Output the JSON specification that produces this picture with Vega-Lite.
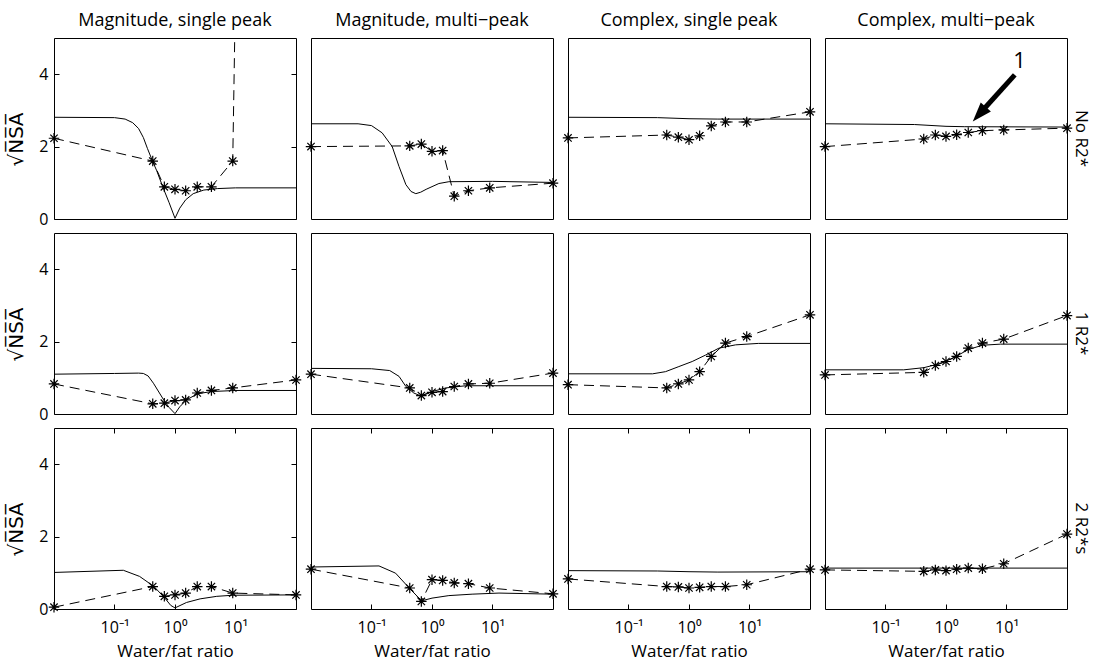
{
"$schema": "https://vega.github.io/schema/vega-lite/v6.json",
"padding": {"left": 6, "top": 11, "right": 2, "bottom": 0},
"datasets": {
"d": [
{"p":"11","k":"t","x":0.01,"y":2.81},{"p":"11","k":"t","x":0.1,"y":2.80},{"p":"11","k":"t","x":0.15,"y":2.76},{"p":"11","k":"t","x":0.2,"y":2.66},{"p":"11","k":"t","x":0.25,"y":2.5},{"p":"11","k":"t","x":0.3,"y":2.25},{"p":"11","k":"t","x":0.35,"y":1.95},{"p":"11","k":"t","x":0.43,"y":1.58},{"p":"11","k":"t","x":0.5,"y":1.33},{"p":"11","k":"t","x":0.63,"y":0.88},{"p":"11","k":"t","x":0.8,"y":0.45},{"p":"11","k":"t","x":1,"y":0.02},{"p":"11","k":"t","x":1.2,"y":0.3},{"p":"11","k":"t","x":1.5,"y":0.53},{"p":"11","k":"t","x":2,"y":0.7},{"p":"11","k":"t","x":3,"y":0.8},{"p":"11","k":"t","x":5,"y":0.84},{"p":"11","k":"t","x":10,"y":0.86},{"p":"11","k":"t","x":100,"y":0.86},
{"p":"12","k":"t","x":0.01,"y":2.63},{"p":"12","k":"t","x":0.06,"y":2.63},{"p":"12","k":"t","x":0.1,"y":2.58},{"p":"12","k":"t","x":0.15,"y":2.38},{"p":"12","k":"t","x":0.22,"y":2.0},{"p":"12","k":"t","x":0.285,"y":1.45},{"p":"12","k":"t","x":0.37,"y":0.95},{"p":"12","k":"t","x":0.45,"y":0.76},{"p":"12","k":"t","x":0.54,"y":0.70},{"p":"12","k":"t","x":0.65,"y":0.74},{"p":"12","k":"t","x":0.8,"y":0.82},{"p":"12","k":"t","x":1.3,"y":0.98},{"p":"12","k":"t","x":1.9,"y":1.03},{"p":"12","k":"t","x":10,"y":1.04},{"p":"12","k":"t","x":100,"y":1.01},
{"p":"13","k":"t","x":0.01,"y":2.81},{"p":"13","k":"t","x":0.3,"y":2.80},{"p":"13","k":"t","x":1,"y":2.77},{"p":"13","k":"t","x":3,"y":2.76},{"p":"13","k":"t","x":100,"y":2.76},
{"p":"14","k":"t","x":0.01,"y":2.63},{"p":"14","k":"t","x":0.3,"y":2.61},{"p":"14","k":"t","x":1,"y":2.56},{"p":"14","k":"t","x":2,"y":2.55},{"p":"14","k":"t","x":100,"y":2.54},
{"p":"21","k":"t","x":0.01,"y":1.10},{"p":"21","k":"t","x":0.1,"y":1.12},{"p":"21","k":"t","x":0.25,"y":1.13},{"p":"21","k":"t","x":0.3,"y":1.12},{"p":"21","k":"t","x":0.36,"y":1.05},{"p":"21","k":"t","x":0.44,"y":0.85},{"p":"21","k":"t","x":0.65,"y":0.39},{"p":"21","k":"t","x":0.8,"y":0.18},{"p":"21","k":"t","x":1,"y":0.01},{"p":"21","k":"t","x":1.2,"y":0.2},{"p":"21","k":"t","x":1.55,"y":0.39},{"p":"21","k":"t","x":2.37,"y":0.56},{"p":"21","k":"t","x":4,"y":0.62},{"p":"21","k":"t","x":10,"y":0.65},{"p":"21","k":"t","x":100,"y":0.65},
{"p":"22","k":"t","x":0.01,"y":1.26},{"p":"22","k":"t","x":0.1,"y":1.25},{"p":"22","k":"t","x":0.2,"y":1.2},{"p":"22","k":"t","x":0.285,"y":1.04},{"p":"22","k":"t","x":0.37,"y":0.76},{"p":"22","k":"t","x":0.5,"y":0.58},{"p":"22","k":"t","x":0.65,"y":0.5},{"p":"22","k":"t","x":1,"y":0.62},{"p":"22","k":"t","x":1.7,"y":0.72},{"p":"22","k":"t","x":3.6,"y":0.78},{"p":"22","k":"t","x":100,"y":0.78},
{"p":"23","k":"t","x":0.01,"y":1.11},{"p":"23","k":"t","x":0.25,"y":1.11},{"p":"23","k":"t","x":0.41,"y":1.17},{"p":"23","k":"t","x":0.68,"y":1.31},{"p":"23","k":"t","x":1.13,"y":1.45},{"p":"23","k":"t","x":1.89,"y":1.63},{"p":"23","k":"t","x":3.13,"y":1.82},{"p":"23","k":"t","x":5.9,"y":1.91},{"p":"23","k":"t","x":14,"y":1.95},{"p":"23","k":"t","x":100,"y":1.95},
{"p":"24","k":"t","x":0.01,"y":1.22},{"p":"24","k":"t","x":0.2,"y":1.22},{"p":"24","k":"t","x":0.43,"y":1.28},{"p":"24","k":"t","x":0.67,"y":1.36},{"p":"24","k":"t","x":1,"y":1.46},{"p":"24","k":"t","x":1.5,"y":1.6},{"p":"24","k":"t","x":2.33,"y":1.78},{"p":"24","k":"t","x":4,"y":1.9},{"p":"24","k":"t","x":8,"y":1.93},{"p":"24","k":"t","x":100,"y":1.93},
{"p":"31","k":"t","x":0.01,"y":1.01},{"p":"31","k":"t","x":0.14,"y":1.07},{"p":"31","k":"t","x":0.26,"y":0.9},{"p":"31","k":"t","x":0.45,"y":0.62},{"p":"31","k":"t","x":0.68,"y":0.3},{"p":"31","k":"t","x":0.85,"y":0.1},{"p":"31","k":"t","x":1,"y":0.03},{"p":"31","k":"t","x":1.55,"y":0.18},{"p":"31","k":"t","x":2.6,"y":0.28},{"p":"31","k":"t","x":4.9,"y":0.35},{"p":"31","k":"t","x":9,"y":0.38},{"p":"31","k":"t","x":100,"y":0.39},
{"p":"32","k":"t","x":0.01,"y":1.16},{"p":"32","k":"t","x":0.133,"y":1.19},{"p":"32","k":"t","x":0.25,"y":0.99},{"p":"32","k":"t","x":0.42,"y":0.58},{"p":"32","k":"t","x":0.61,"y":0.30},{"p":"32","k":"t","x":0.69,"y":0.23},{"p":"32","k":"t","x":1,"y":0.30},{"p":"32","k":"t","x":1.9,"y":0.37},{"p":"32","k":"t","x":4.6,"y":0.41},{"p":"32","k":"t","x":12.8,"y":0.44},{"p":"32","k":"t","x":100,"y":0.41},
{"p":"33","k":"t","x":0.01,"y":1.06},{"p":"33","k":"t","x":0.3,"y":1.05},{"p":"33","k":"t","x":1,"y":1.03},{"p":"33","k":"t","x":3,"y":1.02},{"p":"33","k":"t","x":100,"y":1.03},
{"p":"34","k":"t","x":0.01,"y":1.13},{"p":"34","k":"t","x":100,"y":1.13},
{"p":"11","k":"m","x":0.01,"y":2.23},{"p":"11","k":"m","x":0.4286,"y":1.60},{"p":"11","k":"m","x":0.6667,"y":0.89},{"p":"11","k":"m","x":1,"y":0.82},{"p":"11","k":"m","x":1.5,"y":0.78},{"p":"11","k":"m","x":2.333,"y":0.89},{"p":"11","k":"m","x":4,"y":0.89},{"p":"11","k":"m","x":9,"y":1.60},{"p":"11","k":"m","x":100,"y":110},
{"p":"12","k":"m","x":0.01,"y":2.0},{"p":"12","k":"m","x":0.4286,"y":2.02},{"p":"12","k":"m","x":0.6667,"y":2.07},{"p":"12","k":"m","x":1,"y":1.87},{"p":"12","k":"m","x":1.5,"y":1.89},{"p":"12","k":"m","x":2.333,"y":0.63},{"p":"12","k":"m","x":4,"y":0.78},{"p":"12","k":"m","x":9,"y":0.86},{"p":"12","k":"m","x":100,"y":0.99},
{"p":"13","k":"m","x":0.01,"y":2.24},{"p":"13","k":"m","x":0.4286,"y":2.32},{"p":"13","k":"m","x":0.6667,"y":2.26},{"p":"13","k":"m","x":1,"y":2.19},{"p":"13","k":"m","x":1.5,"y":2.30},{"p":"13","k":"m","x":2.333,"y":2.57},{"p":"13","k":"m","x":4,"y":2.68},{"p":"13","k":"m","x":9,"y":2.68},{"p":"13","k":"m","x":100,"y":2.96},
{"p":"14","k":"m","x":0.01,"y":2.0},{"p":"14","k":"m","x":0.4286,"y":2.21},{"p":"14","k":"m","x":0.6667,"y":2.32},{"p":"14","k":"m","x":1,"y":2.28},{"p":"14","k":"m","x":1.5,"y":2.33},{"p":"14","k":"m","x":2.333,"y":2.39},{"p":"14","k":"m","x":4,"y":2.44},{"p":"14","k":"m","x":9,"y":2.46},{"p":"14","k":"m","x":100,"y":2.51},
{"p":"21","k":"m","x":0.01,"y":0.83},{"p":"21","k":"m","x":0.4286,"y":0.28},{"p":"21","k":"m","x":0.6667,"y":0.30},{"p":"21","k":"m","x":1,"y":0.37},{"p":"21","k":"m","x":1.5,"y":0.39},{"p":"21","k":"m","x":2.333,"y":0.58},{"p":"21","k":"m","x":4,"y":0.65},{"p":"21","k":"m","x":9,"y":0.72},{"p":"21","k":"m","x":100,"y":0.94},
{"p":"22","k":"m","x":0.01,"y":1.10},{"p":"22","k":"m","x":0.4286,"y":0.72},{"p":"22","k":"m","x":0.6667,"y":0.51},{"p":"22","k":"m","x":1,"y":0.60},{"p":"22","k":"m","x":1.5,"y":0.62},{"p":"22","k":"m","x":2.333,"y":0.76},{"p":"22","k":"m","x":4,"y":0.83},{"p":"22","k":"m","x":9,"y":0.85},{"p":"22","k":"m","x":100,"y":1.13},
{"p":"23","k":"m","x":0.01,"y":0.81},{"p":"23","k":"m","x":0.4286,"y":0.72},{"p":"23","k":"m","x":0.6667,"y":0.83},{"p":"23","k":"m","x":1,"y":0.94},{"p":"23","k":"m","x":1.5,"y":1.17},{"p":"23","k":"m","x":2.333,"y":1.59},{"p":"23","k":"m","x":4,"y":1.96},{"p":"23","k":"m","x":9,"y":2.14},{"p":"23","k":"m","x":100,"y":2.74},
{"p":"24","k":"m","x":0.01,"y":1.08},{"p":"24","k":"m","x":0.4286,"y":1.15},{"p":"24","k":"m","x":0.6667,"y":1.34},{"p":"24","k":"m","x":1,"y":1.45},{"p":"24","k":"m","x":1.5,"y":1.59},{"p":"24","k":"m","x":2.333,"y":1.82},{"p":"24","k":"m","x":4,"y":1.96},{"p":"24","k":"m","x":9,"y":2.07},{"p":"24","k":"m","x":100,"y":2.72},
{"p":"31","k":"m","x":0.01,"y":0.05},{"p":"31","k":"m","x":0.4286,"y":0.62},{"p":"31","k":"m","x":0.6667,"y":0.35},{"p":"31","k":"m","x":1,"y":0.39},{"p":"31","k":"m","x":1.5,"y":0.44},{"p":"31","k":"m","x":2.333,"y":0.62},{"p":"31","k":"m","x":4,"y":0.62},{"p":"31","k":"m","x":9,"y":0.44},{"p":"31","k":"m","x":100,"y":0.39},
{"p":"32","k":"m","x":0.01,"y":1.10},{"p":"32","k":"m","x":0.4286,"y":0.58},{"p":"32","k":"m","x":0.6667,"y":0.21},{"p":"32","k":"m","x":1,"y":0.81},{"p":"32","k":"m","x":1.5,"y":0.79},{"p":"32","k":"m","x":2.333,"y":0.72},{"p":"32","k":"m","x":4,"y":0.70},{"p":"32","k":"m","x":9,"y":0.58},{"p":"32","k":"m","x":100,"y":0.42},
{"p":"33","k":"m","x":0.01,"y":0.83},{"p":"33","k":"m","x":0.4286,"y":0.62},{"p":"33","k":"m","x":0.6667,"y":0.61},{"p":"33","k":"m","x":1,"y":0.58},{"p":"33","k":"m","x":1.5,"y":0.60},{"p":"33","k":"m","x":2.333,"y":0.62},{"p":"33","k":"m","x":4,"y":0.62},{"p":"33","k":"m","x":9,"y":0.67},{"p":"33","k":"m","x":100,"y":1.10},
{"p":"34","k":"m","x":0.01,"y":1.08},{"p":"34","k":"m","x":0.4286,"y":1.04},{"p":"34","k":"m","x":0.6667,"y":1.08},{"p":"34","k":"m","x":1,"y":1.06},{"p":"34","k":"m","x":1.5,"y":1.10},{"p":"34","k":"m","x":2.333,"y":1.13},{"p":"34","k":"m","x":4,"y":1.11},{"p":"34","k":"m","x":9,"y":1.25},{"p":"34","k":"m","x":100,"y":2.07},
{"p":"14","k":"arrow","x":13.7,"y":3.98,"x2":4.09,"y2":3.01},
{"p":"14","k":"head","x":3.55,"y":2.895},
{"p":"14","k":"lbl","x":16.4,"y":4.36,"t":"1"}
]
},
"data": {"name": "d"},
"columns": 4,
"bounds": "flush",
"spacing": {"row": 14, "column": 15},
"concat": [
{"width":242,"height":181,"title":{"text":"Magnitude, single peak"},"transform":[{"filter":"datum.p === '11'"}],
 "encoding":{"x":{"field":"x","type":"quantitative","scale":{"type":"log","domain":[0.01,100],"nice":false},"axis":null},
  "y":{"field":"y","type":"quantitative","scale":{"domain":[0,5],"nice":false},"axis":{"values":[0,2,4],"title":"√N̅S̅A̅","titleFont":"DejaVu Sans","titleFontSize":20,"grid":true,"gridDash":[5,232,5],"labelPadding":6,"titlePadding":12,"titleY":101}}},
 "layer":[
  {"transform":[{"filter":"datum.k === 't'"}],"mark":{"type":"line","color":"black","strokeWidth":1,"clip":true},"encoding":{}},
  {"transform":[{"filter":"datum.k === 'm'"}],"mark":{"type":"line","color":"black","strokeWidth":1,"strokeDash":[10,6],"clip":true},"encoding":{}},
  {"transform":[{"filter":"datum.k === 'm' && datum.y <= 5"}],"mark":{"type":"point","shape":"M-1,0L1,0M0,-1L0,1M-0.7,-0.7L0.7,0.7M-0.7,0.7L0.7,-0.7","size":110,"filled":false,"stroke":"black","strokeWidth":1.2,"opacity":1},"encoding":{}}
 ]},
{"width":242,"height":181,"title":{"text":"Magnitude, multi−peak"},"transform":[{"filter":"datum.p === '12'"}],
 "encoding":{"x":{"field":"x","type":"quantitative","scale":{"type":"log","domain":[0.01,100],"nice":false},"axis":null},
  "y":{"field":"y","type":"quantitative","scale":{"domain":[0,5],"nice":false},"axis":null}},
 "layer":[
  {"transform":[{"filter":"datum.k === 't'"}],"mark":{"type":"line","color":"black","strokeWidth":1,"clip":true},"encoding":{}},
  {"transform":[{"filter":"datum.k === 'm'"}],"mark":{"type":"line","color":"black","strokeWidth":1,"strokeDash":[10,6],"clip":true},"encoding":{}},
  {"transform":[{"filter":"datum.k === 'm' && datum.y <= 5"}],"mark":{"type":"point","shape":"M-1,0L1,0M0,-1L0,1M-0.7,-0.7L0.7,0.7M-0.7,0.7L0.7,-0.7","size":110,"filled":false,"stroke":"black","strokeWidth":1.2,"opacity":1},"encoding":{}}
 ]},
{"width":242,"height":181,"title":{"text":"Complex, single peak"},"transform":[{"filter":"datum.p === '13'"}],
 "encoding":{"x":{"field":"x","type":"quantitative","scale":{"type":"log","domain":[0.01,100],"nice":false},"axis":null},
  "y":{"field":"y","type":"quantitative","scale":{"domain":[0,5],"nice":false},"axis":null}},
 "layer":[
  {"transform":[{"filter":"datum.k === 't'"}],"mark":{"type":"line","color":"black","strokeWidth":1,"clip":true},"encoding":{}},
  {"transform":[{"filter":"datum.k === 'm'"}],"mark":{"type":"line","color":"black","strokeWidth":1,"strokeDash":[10,6],"clip":true},"encoding":{}},
  {"transform":[{"filter":"datum.k === 'm' && datum.y <= 5"}],"mark":{"type":"point","shape":"M-1,0L1,0M0,-1L0,1M-0.7,-0.7L0.7,0.7M-0.7,0.7L0.7,-0.7","size":110,"filled":false,"stroke":"black","strokeWidth":1.2,"opacity":1},"encoding":{}}
 ]},
{"width":242,"height":181,"title":{"text":"Complex, multi−peak"},"transform":[{"filter":"datum.p === '14'"}],
 "encoding":{"x":{"field":"x","type":"quantitative","scale":{"type":"log","domain":[0.01,100],"nice":false},"axis":null},
  "y":{"field":"y","type":"quantitative","scale":{"domain":[0,5],"nice":false},"axis":{"orient":"right","title":"No R2*","titleFontSize":17,"labels":false,"titlePadding":4,"titleY":100}}},
 "layer":[
  {"transform":[{"filter":"datum.k === 't'"}],"mark":{"type":"line","color":"black","strokeWidth":1,"clip":true},"encoding":{}},
  {"transform":[{"filter":"datum.k === 'm'"}],"mark":{"type":"line","color":"black","strokeWidth":1,"strokeDash":[10,6],"clip":true},"encoding":{}},
  {"transform":[{"filter":"datum.k === 'm' && datum.y <= 5"}],"mark":{"type":"point","shape":"M-1,0L1,0M0,-1L0,1M-0.7,-0.7L0.7,0.7M-0.7,0.7L0.7,-0.7","size":110,"filled":false,"stroke":"black","strokeWidth":1.2,"opacity":1},"encoding":{}},
  {"transform":[{"filter":"datum.k === 'arrow'"}],"mark":{"type":"rule","color":"black","strokeWidth":5},"encoding":{"x2":{"field":"x2"},"y2":{"field":"y2"}}},
  {"transform":[{"filter":"datum.k === 'head'"}],"mark":{"type":"point","shape":"M0,-1L0.7,1L-0.7,1Z","filled":true,"color":"black","size":380,"angle":222,"opacity":1},"encoding":{}},
  {"transform":[{"filter":"datum.k === 'lbl'"}],"mark":{"type":"text","fontSize":22,"align":"center","baseline":"middle","color":"black"},"encoding":{"text":{"field":"t"}}}
 ]},
{"width":242,"height":181,"transform":[{"filter":"datum.p === '21'"}],
 "encoding":{"x":{"field":"x","type":"quantitative","scale":{"type":"log","domain":[0.01,100],"nice":false},"axis":null},
  "y":{"field":"y","type":"quantitative","scale":{"domain":[0,5],"nice":false},"axis":{"values":[0,2,4],"title":"√N̅S̅A̅","titleFont":"DejaVu Sans","titleFontSize":20,"grid":true,"gridDash":[5,232,5],"labelPadding":6,"titlePadding":12,"titleY":101}}},
 "layer":[
  {"transform":[{"filter":"datum.k === 't'"}],"mark":{"type":"line","color":"black","strokeWidth":1,"clip":true},"encoding":{}},
  {"transform":[{"filter":"datum.k === 'm'"}],"mark":{"type":"line","color":"black","strokeWidth":1,"strokeDash":[10,6],"clip":true},"encoding":{}},
  {"transform":[{"filter":"datum.k === 'm' && datum.y <= 5"}],"mark":{"type":"point","shape":"M-1,0L1,0M0,-1L0,1M-0.7,-0.7L0.7,0.7M-0.7,0.7L0.7,-0.7","size":110,"filled":false,"stroke":"black","strokeWidth":1.2,"opacity":1},"encoding":{}}
 ]},
{"width":242,"height":181,"transform":[{"filter":"datum.p === '22'"}],
 "encoding":{"x":{"field":"x","type":"quantitative","scale":{"type":"log","domain":[0.01,100],"nice":false},"axis":null},
  "y":{"field":"y","type":"quantitative","scale":{"domain":[0,5],"nice":false},"axis":null}},
 "layer":[
  {"transform":[{"filter":"datum.k === 't'"}],"mark":{"type":"line","color":"black","strokeWidth":1,"clip":true},"encoding":{}},
  {"transform":[{"filter":"datum.k === 'm'"}],"mark":{"type":"line","color":"black","strokeWidth":1,"strokeDash":[10,6],"clip":true},"encoding":{}},
  {"transform":[{"filter":"datum.k === 'm' && datum.y <= 5"}],"mark":{"type":"point","shape":"M-1,0L1,0M0,-1L0,1M-0.7,-0.7L0.7,0.7M-0.7,0.7L0.7,-0.7","size":110,"filled":false,"stroke":"black","strokeWidth":1.2,"opacity":1},"encoding":{}}
 ]},
{"width":242,"height":181,"transform":[{"filter":"datum.p === '23'"}],
 "encoding":{"x":{"field":"x","type":"quantitative","scale":{"type":"log","domain":[0.01,100],"nice":false},"axis":null},
  "y":{"field":"y","type":"quantitative","scale":{"domain":[0,5],"nice":false},"axis":null}},
 "layer":[
  {"transform":[{"filter":"datum.k === 't'"}],"mark":{"type":"line","color":"black","strokeWidth":1,"clip":true},"encoding":{}},
  {"transform":[{"filter":"datum.k === 'm'"}],"mark":{"type":"line","color":"black","strokeWidth":1,"strokeDash":[10,6],"clip":true},"encoding":{}},
  {"transform":[{"filter":"datum.k === 'm' && datum.y <= 5"}],"mark":{"type":"point","shape":"M-1,0L1,0M0,-1L0,1M-0.7,-0.7L0.7,0.7M-0.7,0.7L0.7,-0.7","size":110,"filled":false,"stroke":"black","strokeWidth":1.2,"opacity":1},"encoding":{}}
 ]},
{"width":242,"height":181,"transform":[{"filter":"datum.p === '24'"}],
 "encoding":{"x":{"field":"x","type":"quantitative","scale":{"type":"log","domain":[0.01,100],"nice":false},"axis":null},
  "y":{"field":"y","type":"quantitative","scale":{"domain":[0,5],"nice":false},"axis":{"orient":"right","title":"1 R2*","titleFontSize":17,"labels":false,"titlePadding":4,"titleY":100}}},
 "layer":[
  {"transform":[{"filter":"datum.k === 't'"}],"mark":{"type":"line","color":"black","strokeWidth":1,"clip":true},"encoding":{}},
  {"transform":[{"filter":"datum.k === 'm'"}],"mark":{"type":"line","color":"black","strokeWidth":1,"strokeDash":[10,6],"clip":true},"encoding":{}},
  {"transform":[{"filter":"datum.k === 'm' && datum.y <= 5"}],"mark":{"type":"point","shape":"M-1,0L1,0M0,-1L0,1M-0.7,-0.7L0.7,0.7M-0.7,0.7L0.7,-0.7","size":110,"filled":false,"stroke":"black","strokeWidth":1.2,"opacity":1},"encoding":{}}
 ]},
{"width":242,"height":181,"transform":[{"filter":"datum.p === '31'"}],
 "encoding":{"x":{"field":"x","type":"quantitative","scale":{"type":"log","domain":[0.01,100],"nice":false},"axis":{"values":[0.1,1,10],"labelExpr":"datum.value < 0.5 ? '10⁻¹' : (datum.value < 5 ? '10⁰' : '10¹')","title":"Water/fat ratio","grid":true,"gridDash":[5,171,5],"labelPadding":10,"titlePadding":8,"labelFlush":false}},
  "y":{"field":"y","type":"quantitative","scale":{"domain":[0,5],"nice":false},"axis":{"values":[0,2,4],"title":"√N̅S̅A̅","titleFont":"DejaVu Sans","titleFontSize":20,"grid":true,"gridDash":[5,232,5],"labelPadding":6,"titlePadding":12,"titleY":101}}},
 "layer":[
  {"transform":[{"filter":"datum.k === 't'"}],"mark":{"type":"line","color":"black","strokeWidth":1,"clip":true},"encoding":{}},
  {"transform":[{"filter":"datum.k === 'm'"}],"mark":{"type":"line","color":"black","strokeWidth":1,"strokeDash":[10,6],"clip":true},"encoding":{}},
  {"transform":[{"filter":"datum.k === 'm' && datum.y <= 5"}],"mark":{"type":"point","shape":"M-1,0L1,0M0,-1L0,1M-0.7,-0.7L0.7,0.7M-0.7,0.7L0.7,-0.7","size":110,"filled":false,"stroke":"black","strokeWidth":1.2,"opacity":1},"encoding":{}}
 ]},
{"width":242,"height":181,"transform":[{"filter":"datum.p === '32'"}],
 "encoding":{"x":{"field":"x","type":"quantitative","scale":{"type":"log","domain":[0.01,100],"nice":false},"axis":{"values":[0.1,1,10],"labelExpr":"datum.value < 0.5 ? '10⁻¹' : (datum.value < 5 ? '10⁰' : '10¹')","title":"Water/fat ratio","grid":true,"gridDash":[5,171,5],"labelPadding":10,"titlePadding":8,"labelFlush":false}},
  "y":{"field":"y","type":"quantitative","scale":{"domain":[0,5],"nice":false},"axis":null}},
 "layer":[
  {"transform":[{"filter":"datum.k === 't'"}],"mark":{"type":"line","color":"black","strokeWidth":1,"clip":true},"encoding":{}},
  {"transform":[{"filter":"datum.k === 'm'"}],"mark":{"type":"line","color":"black","strokeWidth":1,"strokeDash":[10,6],"clip":true},"encoding":{}},
  {"transform":[{"filter":"datum.k === 'm' && datum.y <= 5"}],"mark":{"type":"point","shape":"M-1,0L1,0M0,-1L0,1M-0.7,-0.7L0.7,0.7M-0.7,0.7L0.7,-0.7","size":110,"filled":false,"stroke":"black","strokeWidth":1.2,"opacity":1},"encoding":{}}
 ]},
{"width":242,"height":181,"transform":[{"filter":"datum.p === '33'"}],
 "encoding":{"x":{"field":"x","type":"quantitative","scale":{"type":"log","domain":[0.01,100],"nice":false},"axis":{"values":[0.1,1,10],"labelExpr":"datum.value < 0.5 ? '10⁻¹' : (datum.value < 5 ? '10⁰' : '10¹')","title":"Water/fat ratio","grid":true,"gridDash":[5,171,5],"labelPadding":10,"titlePadding":8,"labelFlush":false}},
  "y":{"field":"y","type":"quantitative","scale":{"domain":[0,5],"nice":false},"axis":null}},
 "layer":[
  {"transform":[{"filter":"datum.k === 't'"}],"mark":{"type":"line","color":"black","strokeWidth":1,"clip":true},"encoding":{}},
  {"transform":[{"filter":"datum.k === 'm'"}],"mark":{"type":"line","color":"black","strokeWidth":1,"strokeDash":[10,6],"clip":true},"encoding":{}},
  {"transform":[{"filter":"datum.k === 'm' && datum.y <= 5"}],"mark":{"type":"point","shape":"M-1,0L1,0M0,-1L0,1M-0.7,-0.7L0.7,0.7M-0.7,0.7L0.7,-0.7","size":110,"filled":false,"stroke":"black","strokeWidth":1.2,"opacity":1},"encoding":{}}
 ]},
{"width":242,"height":181,"transform":[{"filter":"datum.p === '34'"}],
 "encoding":{"x":{"field":"x","type":"quantitative","scale":{"type":"log","domain":[0.01,100],"nice":false},"axis":{"values":[0.1,1,10],"labelExpr":"datum.value < 0.5 ? '10⁻¹' : (datum.value < 5 ? '10⁰' : '10¹')","title":"Water/fat ratio","grid":true,"gridDash":[5,171,5],"labelPadding":10,"titlePadding":8,"labelFlush":false}},
  "y":{"field":"y","type":"quantitative","scale":{"domain":[0,5],"nice":false},"axis":{"orient":"right","title":"2 R2*s","titleFontSize":17,"labels":false,"titlePadding":4,"titleY":100}}},
 "layer":[
  {"transform":[{"filter":"datum.k === 't'"}],"mark":{"type":"line","color":"black","strokeWidth":1,"clip":true},"encoding":{}},
  {"transform":[{"filter":"datum.k === 'm'"}],"mark":{"type":"line","color":"black","strokeWidth":1,"strokeDash":[10,6],"clip":true},"encoding":{}},
  {"transform":[{"filter":"datum.k === 'm' && datum.y <= 5"}],"mark":{"type":"point","shape":"M-1,0L1,0M0,-1L0,1M-0.7,-0.7L0.7,0.7M-0.7,0.7L0.7,-0.7","size":110,"filled":false,"stroke":"black","strokeWidth":1.2,"opacity":1},"encoding":{}}
 ]}
],
"config": {
 "font": "Open Sans",
 "view": {"stroke": "black", "strokeWidth": 1},
 "title": {"fontSize": 18, "fontWeight": "normal", "color": "black", "offset": 8, "font": "Open Sans"},
 "axis": {"grid": false, "domain": false, "ticks": false, "labelFontSize": 16, "titleFontSize": 17, "titleFontWeight": "normal", "labelColor": "black", "titleColor": "black", "gridColor": "black", "gridOpacity": 1, "gridWidth": 1, "labelFont": "Open Sans", "titleFont": "Open Sans"},
 "text": {"font": "Open Sans"}
}
}
